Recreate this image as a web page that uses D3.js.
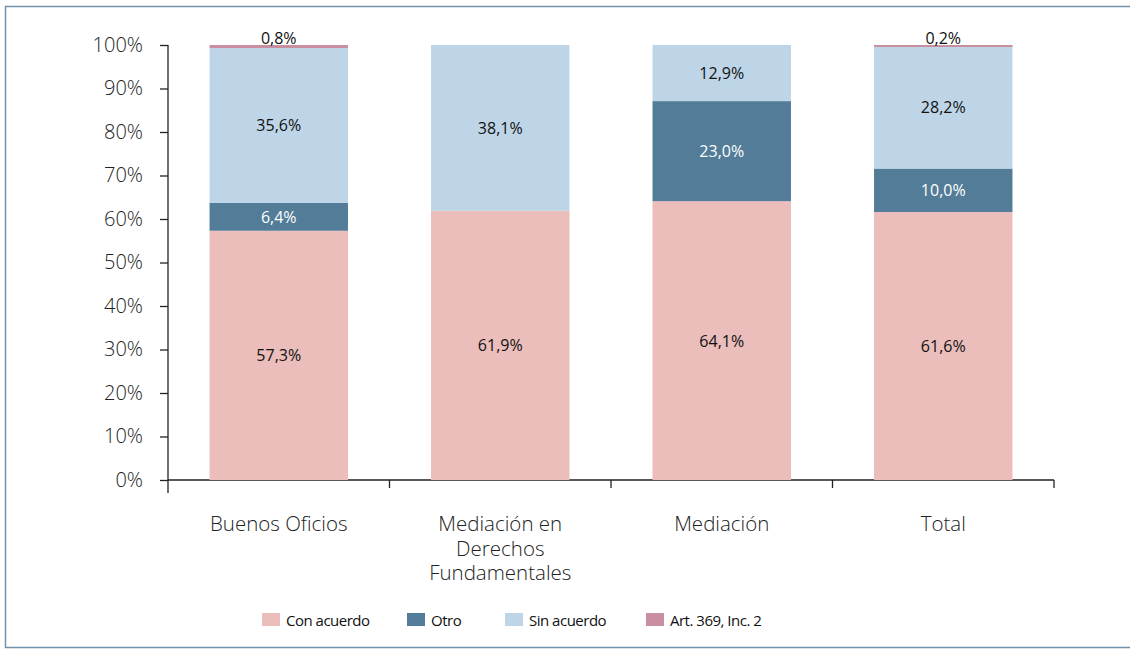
<!DOCTYPE html>
<html>
<head>
<meta charset="utf-8">
<script src="https://cdn.jsdelivr.net/npm/d3@7"></script>
<style>
  body { margin: 0; background: #fff; }
  text { font-family: "Open Sans", "Noto Sans", sans-serif; }
</style>
</head>
<body>
<svg class="chart" width="1130" height="649"></svg>
<script>
var categories = ["Buenos Oficios", "Mediación en Derechos Fundamentales", "Mediación", "Total"];
var catLines = [["Buenos Oficios"], ["Mediación en", "Derechos", "Fundamentales"], ["Mediación"], ["Total"]];
var series = ["Con acuerdo", "Otro", "Sin acuerdo", "Art. 369, Inc. 2"];
var conAcuerdo = [57.3, 61.9, 64.1, 61.6];
var otro = [6.4, 0, 23.0, 10.0];
var sinAcuerdo = [35.6, 38.1, 12.9, 28.2];
var art369 = [0.8, 0, 0, 0.2];
var yTicks = [0, 10, 20, 30, 40, 50, 60, 70, 80, 90, 100];

var colors = ["#ebbdbb", "#527c97", "#bed5e8", "#c98fa0"];
var labelColors = ["#111", "#fff", "#111", "#111"];

var svg = d3.select(".chart"),
    margin = {top: 45, right: 76, bottom: 169, left: 168},
    width = +svg.attr("width") - margin.left - margin.right,
    height = +svg.attr("height") - margin.top - margin.bottom;

// frame
svg.append("path")
    .attr("d", "M1131,6.5 H5.5 V647.5 H1131")
    .attr("fill", "none")
    .attr("stroke", "#7393ad")
    .attr("stroke-width", 1.5);

var g = svg.append("g").attr("transform", "translate(" + margin.left + "," + margin.top + ")");

var data = categories.map(function(c, i) {
  return {cat: c, "Con acuerdo": conAcuerdo[i], "Otro": otro[i], "Sin acuerdo": sinAcuerdo[i], "Art. 369, Inc. 2": art369[i]};
});

var x = d3.scaleBand().domain(categories).range([0, width]).paddingInner(0.375).paddingOuter(0.1875);
var y = d3.scaleLinear().domain([0, 100]).range([height, 0]);

var stack = d3.stack().keys(series)(data);

// y axis
var yAxis = g.append("g")
    .call(d3.axisLeft(y).tickValues(yTicks).tickSize(8).tickPadding(17).tickFormat(function(d) { return d + "%"; }));
yAxis.select(".domain").attr("d", "M0," + (height + 13) + "V0").attr("stroke", "#222").attr("stroke-width", 1.3);
yAxis.selectAll(".tick line").attr("stroke", "#222").attr("stroke-width", 1.3);
yAxis.selectAll(".tick text").attr("font-size", 20).attr("font-weight", 300).attr("fill", "#222");

// x axis
var xAxis = g.append("g").attr("transform", "translate(0," + height + ")");
xAxis.append("line").attr("x1", 0).attr("x2", width).attr("stroke", "#222").attr("stroke-width", 1.3);
xAxis.selectAll(".sep")
    .data(d3.range(1, categories.length + 1))
    .enter().append("line")
    .attr("x1", function(d) { return width * d / categories.length; })
    .attr("x2", function(d) { return width * d / categories.length; })
    .attr("y1", 0).attr("y2", 8)
    .attr("stroke", "#222").attr("stroke-width", 1.3);

xAxis.selectAll(".cat")
    .data(categories)
    .enter().append("text")
    .attr("text-anchor", "middle")
    .attr("font-size", 20.5)
    .attr("font-weight", 300)
    .attr("fill", "#222")
    .attr("transform", function(d) { return "translate(" + (x(d) + x.bandwidth() / 2) + ",51)"; })
    .selectAll("tspan")
    .data(function(d, i) { return catLines[i]; })
    .enter().append("tspan")
    .attr("x", 0)
    .attr("dy", function(d, i) { return i ? 24.5 : 0; })
    .text(function(d) { return d; });

// bars (tiny segments get a 2px minimum so they stay visible)
var layers = g.selectAll(".layer")
    .data(stack)
    .enter().append("g")
    .attr("fill", function(d, i) { return colors[i]; });

layers.selectAll("rect")
    .data(function(d) { return d; })
    .enter().append("rect")
    .attr("x", function(d) { return x(d.data.cat); })
    .attr("y", function(d) { return y(Math.min(d[1], 100)); })
    .attr("height", function(d) {
      var h = Math.max(0, y(d[0]) - y(Math.min(d[1], 100)));
      return (d[1] > d[0] && h < 2) ? 2 : h;
    })
    .attr("width", x.bandwidth());

// value labels
stack.forEach(function(layer, li) {
  layer.forEach(function(d) {
    var v = d.data[layer.key];
    if (!v) return;
    var cx = x(d.data.cat) + x.bandwidth() / 2;
    var cy = li === 3 ? y(100) - 1 : (y(d[0]) + y(d[1])) / 2 + 6;
    g.append("text")
        .attr("x", cx)
        .attr("y", cy)
        .attr("text-anchor", "middle")
        .attr("font-size", 16)
        .attr("fill", labelColors[li])
        .text(d3.format(".1f")(v).replace(".", ",") + "%");
  });
});

// legend
var legendX = [262, 407, 505, 646];
var legend = svg.selectAll(".legend")
    .data(series)
    .enter().append("g")
    .attr("transform", function(d, i) { return "translate(" + legendX[i] + ",613)"; });
legend.append("rect").attr("width", 18).attr("height", 13).attr("fill", function(d, i) { return colors[i]; });
legend.append("text").attr("x", 24).attr("y", 12.5).attr("font-size", 15).attr("letter-spacing", -0.5)
    .attr("fill", "#111").text(function(d) { return d; });
</script>
</body>
</html>
